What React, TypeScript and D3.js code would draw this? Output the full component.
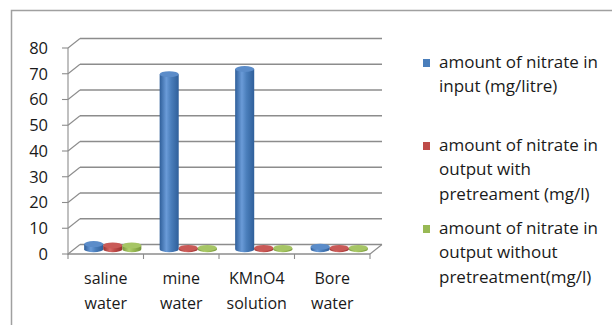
import React from "react";
import * as d3 from "d3";

const categories = [["saline", "water"], ["mine", "water"], ["KMnO4", "solution"], ["Bore", "water"]];
const categoryKeys = ["saline water", "mine water", "KMnO4 solution", "Bore water"];
const inputNitrate = [2, 68, 70, 1];
const outputWithPretreatment = [1.5, 0.5, 0.5, 0.5];
const outputWithoutPretreatment = [1.5, 0.5, 0.5, 0.5];
const yTicks = [0, 10, 20, 30, 40, 50, 60, 70, 80];
const seriesNames = [
  ["amount of nitrate in", "input (mg/litre)"],
  ["amount of nitrate in", "output with", "pretreament (mg/l)"],
  ["amount of nitrate in", "output without", "pretreatment(mg/l)"],
];
const seriesValues = [inputNitrate, outputWithPretreatment, outputWithoutPretreatment];
const palette = [
  { base: "#4a7ebb", dark: "#2f5f9a", light: "#6a9bd8", top: "#5b8cc9" },
  { base: "#be4b48", dark: "#98302e", light: "#d66a66", top: "#c95a57" },
  { base: "#98b954", dark: "#76953a", light: "#b0cf6e", top: "#a6c565" },
];

const W = 612;
const H = 325;
const DX = 12;
const DY = 9.5;
const FONT = "'Open Sans', sans-serif";

export default function App() {
  const x = d3.scaleBand<string>().domain(categoryKeys).range([68, 370]);
  const y = d3.scaleLinear().domain([0, 80]).range([254, 48]);
  const inner = d3
    .scaleBand<number>()
    .domain([0, 1, 2])
    .range([0, x.bandwidth()])
    .paddingOuter(0.48)
    .paddingInner(0);
  const bw = inner.bandwidth();
  const mdx = DX / 2 + 1;
  const mdy = DY / 2;
  const ry = 3;
  const gridColor = "#8c8c8c";

  return (
    <svg width={W} height={H} style={{ position: "absolute", left: 0, top: 0 }}>
      <defs>
        {palette.map((p, i) => (
          <linearGradient key={i} id={`cyl${i}`} x1="0" x2="1" y1="0" y2="0">
            <stop offset="0" stopColor={p.dark} />
            <stop offset="0.35" stopColor={p.light} />
            <stop offset="0.6" stopColor={p.base} />
            <stop offset="1" stopColor={p.dark} />
          </linearGradient>
        ))}
      </defs>
      <rect x={0} y={0} width={W} height={H} fill="#fff" />
      {/* outer chart frame */}
      <path d={`M11.5,${H + 2} V10.5 H${W + 2}`} fill="none" stroke="#a0a0a0" strokeWidth={1.5} />

      {/* back-wall gridlines and left-wall diagonals */}
      {yTicks.map((t) => (
        <g key={t}>
          <line x1={68 + DX} x2={370 + DX} y1={y(t) - DY} y2={y(t) - DY} stroke={gridColor} strokeWidth={1.3} />
          <line x1={68} x2={68 + DX} y1={y(t)} y2={y(t) - DY} stroke={gridColor} strokeWidth={1.1} />
          <line x1={62} x2={68} y1={y(t)} y2={y(t)} stroke={gridColor} strokeWidth={1.1} />
          <text
            x={48}
            y={y(t)}
            dy="0.36em"
            textAnchor="end"
            fontFamily={FONT}
            fontSize={16.5}
            fill="#1a1a1a"
          >
            {t}
          </text>
        </g>
      ))}
      {/* front vertical axis */}
      <line x1={68} x2={68} y1={y(80)} y2={y(0) + 1} stroke={gridColor} strokeWidth={1.1} />
      {/* floor */}
      <line x1={68} x2={370} y1={y(0)} y2={y(0)} stroke={gridColor} strokeWidth={1.3} />
      <line x1={370} x2={370 + DX} y1={y(0)} y2={y(0) - DY} stroke={gridColor} strokeWidth={1.1} />
      {[...categoryKeys.map((c) => x(c) as number), 370].map((px, i) => (
        <line key={i} x1={px} x2={px} y1={y(0)} y2={y(0) + 5} stroke={gridColor} strokeWidth={1.1} />
      ))}

      {/* cylinders */}
      {categoryKeys.map((c, ci) =>
        seriesValues.map((vals, si) => {
          const x0 = (x(c) as number) + (inner(si) as number) + mdx;
          const cx = x0 + bw / 2;
          const yb = y(0) - mdy;
          const yt = y(vals[ci]) - mdy;
          return (
            <g key={`${ci}-${si}`}>
              <path
                d={`M${x0},${yt} V${yb} A${bw / 2},${ry} 0 0 0 ${x0 + bw},${yb} V${yt} Z`}
                fill={`url(#cyl${si})`}
              />
              <ellipse cx={cx} cy={yt} rx={bw / 2} ry={ry} fill={palette[si].top} />
            </g>
          );
        })
      )}

      {/* category labels */}
      {categoryKeys.map((c, ci) => (
        <text
          key={c}
          x={(x(c) as number) + x.bandwidth() / 2}
          y={284}
          textAnchor="middle"
          fontFamily={FONT}
          fontSize={16}
          fill="#1a1a1a"
        >
          {categories[ci].map((line, li) => (
            <tspan key={li} x={(x(c) as number) + x.bandwidth() / 2} dy={li === 0 ? 0 : 24.5}>
              {line}
            </tspan>
          ))}
        </text>
      ))}

      {/* legend */}
      {seriesNames.map((lines, si) => {
        const top = [68, 151, 234][si];
        return (
          <g key={si}>
            <rect x={423} y={top - 9} width={7} height={8} fill={palette[si].base} />
            <text x={439} y={top} fontFamily={FONT} fontSize={17} fill="#1a1a1a">
              {lines.map((l, li) => (
                <tspan key={li} x={439} dy={li === 0 ? 0 : 24.3}>
                  {l}
                </tspan>
              ))}
            </text>
          </g>
        );
      })}
    </svg>
  );
}
